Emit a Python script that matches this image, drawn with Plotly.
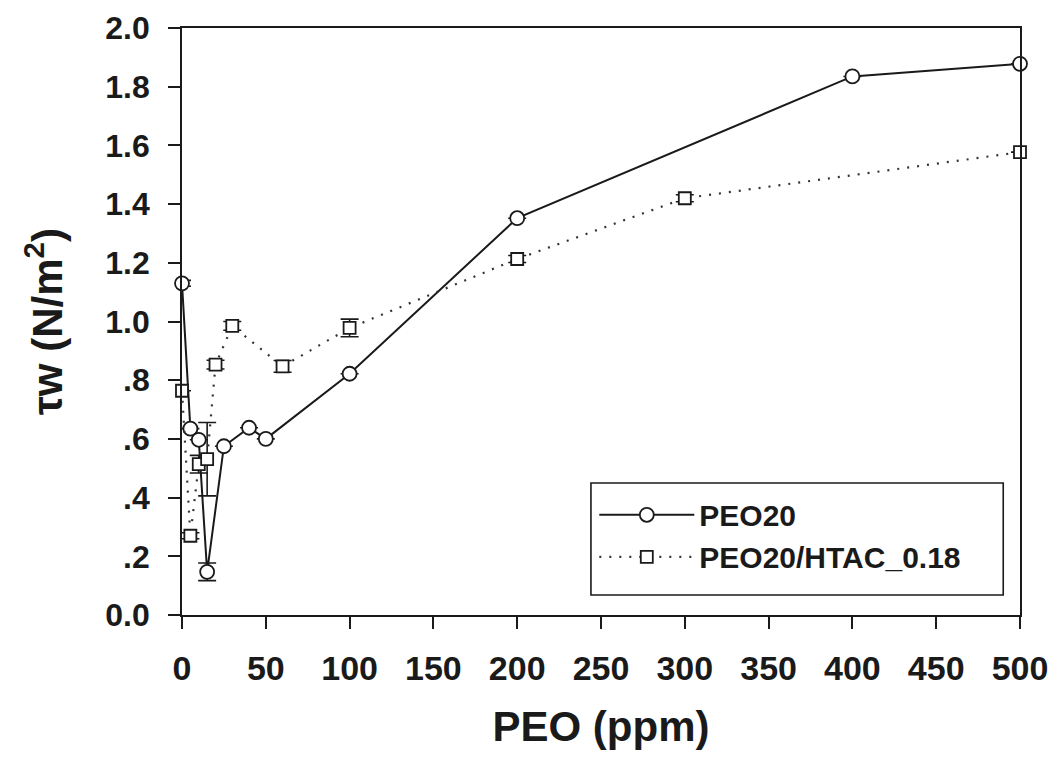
import plotly.graph_objects as go

# PEO20 (circles, solid line)
peo_x = [0, 5, 10, 15, 25, 40, 50, 100, 200, 400, 500]
peo_y = [1.13, 0.635, 0.597, 0.147, 0.575, 0.638, 0.60, 0.822, 1.352, 1.835, 1.878]
peo_err = [0.01, 0.0, 0.0, 0.03, 0.0, 0.0, 0.0, 0.0, 0.0, 0.0, 0.0]

# PEO20/HTAC_0.18 (squares, dotted line)
htac_x = [0, 5, 10, 15, 20, 30, 60, 100, 200, 300, 500]
htac_y = [0.764, 0.27, 0.514, 0.531, 0.853, 0.985, 0.847, 0.978, 1.213, 1.42, 1.577]
htac_err = [0.0, 0.01, 0.03, 0.125, 0.015, 0.015, 0.02, 0.03, 0.012, 0.012, 0.0]

y_tickvals = [0, 0.2, 0.4, 0.6, 0.8, 1.0, 1.2, 1.4, 1.6, 1.8, 2.0]
y_ticktext = ["0.0", ".2", ".4", ".6", ".8", "1.0", "1.2", "1.4", "1.6", "1.8", "2.0"]
x_tickvals = [0, 50, 100, 150, 200, 250, 300, 350, 400, 450, 500]

font_family = "Liberation Sans, Arial, sans-serif"
ink = "#1a1a1a"

fig = go.Figure()
fig.add_trace(go.Scatter(
    x=peo_x, y=peo_y, name="PEO20", mode="lines+markers",
    line=dict(color=ink, width=2),
    marker=dict(symbol="circle", size=14, color="white", line=dict(color=ink, width=1.8)),
    error_y=dict(type="data", array=peo_err, color=ink, thickness=1.6, width=9),
    cliponaxis=False,
))
fig.add_trace(go.Scatter(
    x=htac_x, y=htac_y, name="PEO20/HTAC_0.18", mode="lines+markers",
    line=dict(color="#333333", width=2.2, dash="2px,8px"),
    marker=dict(symbol="square", size=12, color="white", line=dict(color=ink, width=1.8)),
    error_y=dict(type="data", array=htac_err, color=ink, thickness=1.6, width=9),
    cliponaxis=False,
))

# legend frame
fig.add_shape(type="rect", xref="paper", yref="paper",
              x0=0.488, x1=0.980, y0=0.034, y1=0.225,
              line=dict(color=ink, width=1.6), fillcolor="white", layer="above")

fig.update_layout(
    width=1053, height=759,
    margin=dict(l=182, r=33, t=28, b=144),
    paper_bgcolor="white", plot_bgcolor="white",
    font=dict(family=font_family, color=ink),
    showlegend=True,
    legend=dict(
        x=0.492, y=0.215, xanchor="left", yanchor="top",
        bgcolor="rgba(0,0,0,0)", borderwidth=0,
        font=dict(size=30, family=font_family, color=ink, weight="bold"),
        tracegroupgap=0, itemwidth=95,
    ),
    xaxis=dict(
        range=[0, 500], tickvals=x_tickvals, automargin=False,
        showgrid=False, zeroline=False,
        showline=True, linecolor=ink, linewidth=1.6, mirror=True,
        ticks="outside", ticklen=12, tickwidth=1.5, tickcolor=ink,
        ticklabelstandoff=10,
        tickfont=dict(size=34, family=font_family, weight="bold"),
        title=dict(text="PEO (ppm)", font=dict(size=42, family=font_family, weight="bold"), standoff=26),
    ),
    yaxis=dict(
        range=[0, 2.0], tickvals=y_tickvals, ticktext=y_ticktext, automargin=False,
        showgrid=False, zeroline=False,
        showline=True, linecolor=ink, linewidth=1.6, mirror=True,
        ticks="outside", ticklen=12, tickwidth=1.5, tickcolor=ink,
        ticklabelstandoff=12,
        tickfont=dict(size=32, family=font_family, weight="bold"),
        title=dict(text="τw (N/m<sup>2</sup>)", font=dict(size=42, family=font_family, weight="bold"), standoff=30),
    ),
)

fig.write_html("out.html")
